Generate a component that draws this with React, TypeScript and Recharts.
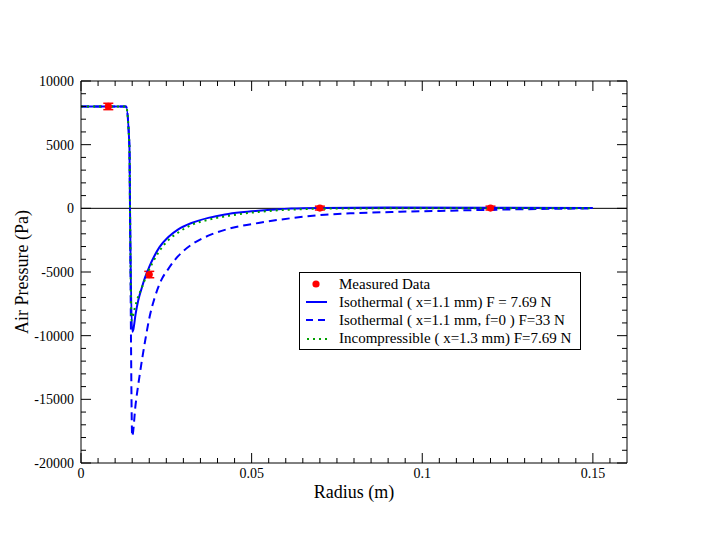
import React from 'react';
import { ComposedChart, Line, Scatter, ErrorBar, XAxis, YAxis, ReferenceLine, Legend } from 'recharts';

const FONT = '"Liberation Serif", "Times New Roman", serif';

// measured points (red dots)
const measuredRadius = [0.008, 0.02, 0.07, 0.12];
const measuredPressure = [8000, -5200, 20, 20];
const measuredError = [250, 250, 150, 150];

// isothermal, x=1.1 mm, F = 7.69 N (solid)
const isoRadius = [0, 0.0132, 0.0142, 0.01436, 0.015, 0.0153, 0.016, 0.0168, 0.0178, 0.0188, 0.02, 0.0215, 0.023, 0.0256, 0.0285, 0.0324, 0.0373, 0.0422, 0.047, 0.052, 0.057, 0.0617, 0.07, 0.09, 0.12, 0.15];
const isoPressure = [8000, 8000, 4800, 0, -9700, -9550, -8300, -7200, -6250, -5400, -4600, -3750, -3050, -2250, -1650, -1150, -750, -480, -310, -190, -90, -20, 30, 60, 50, 30];

// isothermal, x=1.1 mm, f=0, F=33 N (dashed)
const isoF0Radius = [0, 0.0132, 0.0142, 0.01436, 0.015, 0.016, 0.0173, 0.0188, 0.0202, 0.0215, 0.0236, 0.0256, 0.0275, 0.03, 0.0324, 0.0373, 0.0441, 0.052, 0.0617, 0.0715, 0.08, 0.0935, 0.105, 0.117, 0.13, 0.15];
const isoF0Pressure = [8000, 8000, 4800, 0, -17900, -15400, -12900, -10400, -8400, -7100, -5600, -4750, -4050, -3350, -2850, -2150, -1550, -1150, -770, -500, -380, -270, -200, -130, -70, 0];

// incompressible, x=1.3 mm (dotted)
const incompRadius = [0, 0.0132, 0.0142, 0.01436, 0.0148, 0.0155, 0.0163, 0.0178, 0.0193, 0.021, 0.023, 0.0256, 0.0285, 0.0324, 0.0373, 0.0441, 0.052, 0.0617, 0.07, 0.09, 0.12, 0.15];
const incompPressure = [8000, 8000, 4800, 0, -8800, -8100, -7300, -6250, -5200, -4250, -3350, -2500, -1900, -1300, -900, -550, -280, -100, -30, 0, 10, 0];

const radiusTicks = [0, 0.05, 0.1, 0.15];
const radiusMinorTicks = [
  0.005, 0.01, 0.015, 0.02, 0.025, 0.03, 0.035, 0.04, 0.045, 0.055, 0.06, 0.065, 0.07, 0.075, 0.08, 0.085,
  0.09, 0.095, 0.105, 0.11, 0.115, 0.12, 0.125, 0.13, 0.135, 0.14, 0.145, 0.155,
];
const pressureTicks = [10000, 5000, 0, -5000, -10000, -15000, -20000];
const pressureMinorTicks = [
  9000, 8000, 7000, 6000, 4000, 3000, 2000, 1000, -1000, -2000, -3000, -4000, -6000, -7000, -8000, -9000,
  -11000, -12000, -13000, -14000, -16000, -17000, -18000, -19000,
];

const legendLabels = [
  'Measured Data',
  'Isothermal ( x=1.1 mm) F = 7.69 N',
  'Isothermal ( x=1.1 mm, f=0 ) F=33 N',
  'Incompressible ( x=1.3 mm) F=7.69 N',
];

const toPoints = (rs: number[], ps: number[]) => rs.map((r, i) => ({ r, p: ps[i] }));

const measuredData = measuredRadius.map((r, i) => ({ r, p: measuredPressure[i], err: measuredError[i] }));
const isoData = toPoints(isoRadius, isoPressure);
const isoF0Data = toPoints(isoF0Radius, isoF0Pressure);
const incompData = toPoints(incompRadius, incompPressure);

const allRadiusTicks = [...radiusTicks, ...radiusMinorTicks].sort((a, b) => a - b);
const allPressureTicks = [...pressureTicks, ...pressureMinorTicks].sort((a, b) => b - a);

const X_DOMAIN: [number, number] = [0, 0.16];
const Y_DOMAIN: [number, number] = [-20000, 10000];

const WIDTH = 705;
const HEIGHT = 545;
const MARGIN = { top: 81, right: 78, bottom: 52, left: 21 };
const PLOT_TOP = MARGIN.top;
const PLOT_RIGHT = WIDTH - MARGIN.right;

const BLUE = '#0000ff';
const GREEN = '#00a000';
const RED = '#ff0000';

const DataDot = (props: any) => <circle cx={props.cx} cy={props.cy} r={3.6} fill={RED} />;

// bottom axis tick: inward tick on bottom and top edges, label for majors only
const RadiusTick = (props: any) => {
  const { x, y, payload } = props;
  const major = radiusTicks.includes(payload.value);
  const len = major ? 10 : 5;
  return (
    <g>
      <line x1={x} x2={x} y1={y} y2={y - len} stroke="#000" />
      <line x1={x} x2={x} y1={PLOT_TOP} y2={PLOT_TOP + len} stroke="#000" />
      {major && (
        <text x={x} y={y + 15} textAnchor="middle" fontSize={14} fontFamily={FONT} fill="#000">
          {String(payload.value)}
        </text>
      )}
    </g>
  );
};

// left axis tick: inward tick on left and right edges, label for majors only
const PressureTick = (props: any) => {
  const { x, y, payload } = props;
  const major = pressureTicks.includes(payload.value);
  const len = major ? 10 : 5;
  return (
    <g>
      <line x1={x} x2={x + len} y1={y} y2={y} stroke="#000" />
      <line x1={PLOT_RIGHT - len} x2={PLOT_RIGHT} y1={y} y2={y} stroke="#000" />
      {major && (
        <text x={x - 7} y={y} dy={5} textAnchor="end" fontSize={14} fontFamily={FONT} fill="#000">
          {String(payload.value)}
        </text>
      )}
    </g>
  );
};

const YTitle = (props: any) => {
  const vb = props.viewBox || { x: 21, y: 81, width: 60, height: 382 };
  const cx = vb.x + 1;
  const cy = vb.y + vb.height / 2;
  return (
    <text
      x={cx}
      y={cy}
      transform={`rotate(-90, ${cx}, ${cy})`}
      textAnchor="middle"
      dominantBaseline="central"
      fontSize={18}
      fontFamily={FONT}
      fill="#000"
    >
      Air Pressure (Pa)
    </text>
  );
};

const legendSymbol = (i: number) => {
  if (i === 0) return <circle cx={16} cy={9} r={3.6} fill={RED} />;
  if (i === 1) return <line x1={6} x2={27} y1={9} y2={9} stroke={BLUE} strokeWidth={2} />;
  if (i === 2) return <line x1={6} x2={27} y1={9} y2={9} stroke={BLUE} strokeWidth={2} strokeDasharray="7 5" />;
  return <line x1={7} x2={27} y1={9} y2={9} stroke={GREEN} strokeWidth={2} strokeDasharray="2 4" />;
};

const renderLegend = () => (
  <div
    style={{
      boxSizing: 'border-box',
      width: 282,
      height: 78,
      border: '1px solid #000',
      background: '#fff',
      paddingTop: 2,
      fontFamily: FONT,
      fontSize: 15,
      color: '#000',
    }}
  >
    {legendLabels.map((label, i) => (
      <div key={label} style={{ display: 'flex', alignItems: 'center', height: 18.2, whiteSpace: 'nowrap' }}>
        <svg width={39} height={18} style={{ flex: 'none' }}>
          {legendSymbol(i)}
        </svg>
        <span>{label}</span>
      </div>
    ))}
  </div>
);

export default function App() {
  return (
    <div style={{ position: 'absolute', left: 0, top: 0, width: WIDTH, height: HEIGHT, background: '#fff', fontFamily: FONT }}>
      <ComposedChart width={WIDTH} height={HEIGHT} margin={MARGIN}>
        <XAxis
          xAxisId="x"
          dataKey="r"
          type="number"
          domain={X_DOMAIN}
          allowDataOverflow
          ticks={allRadiusTicks}
          interval={0}
          height={30}
          tickLine={false}
          tickSize={0}
          tickMargin={0}
          axisLine={{ stroke: '#000' }}
          tick={RadiusTick}
          label={{ value: 'Radius (m)', position: 'bottom', offset: -8, fontSize: 18, fill: '#000', fontFamily: FONT }}
        />
        {/* top frame line */}
        <XAxis
          xAxisId="xTop"
          orientation="top"
          type="number"
          domain={X_DOMAIN}
          allowDataOverflow
          mirror
          height={1}
          tick={false}
          tickLine={false}
          axisLine={{ stroke: '#000' }}
        />

        <YAxis
          yAxisId="y"
          dataKey="p"
          type="number"
          domain={Y_DOMAIN}
          allowDataOverflow
          ticks={allPressureTicks}
          interval={0}
          width={60}
          tickLine={false}
          tickSize={0}
          tickMargin={0}
          axisLine={{ stroke: '#000' }}
          tick={PressureTick}
          label={{ content: YTitle }}
        />
        {/* right frame line */}
        <YAxis
          yAxisId="yRight"
          orientation="right"
          type="number"
          domain={Y_DOMAIN}
          allowDataOverflow
          mirror
          width={1}
          tick={false}
          tickLine={false}
          axisLine={{ stroke: '#000' }}
        />

        <ReferenceLine xAxisId="x" yAxisId="y" y={0} stroke="#000" strokeWidth={1} />

        <Scatter
          xAxisId="x"
          yAxisId="y"
          name="Measured Data"
          data={measuredData}
          dataKey="p"
          shape={DataDot}
          isAnimationActive={false}
        >
          <ErrorBar dataKey="err" direction="y" width={5} stroke={RED} strokeWidth={1.5} isAnimationActive={false} />
        </Scatter>
        <Line
          xAxisId="x"
          yAxisId="y"
          data={isoData}
          dataKey="p"
          type="monotone"
          stroke={BLUE}
          strokeWidth={2}
          dot={false}
          isAnimationActive={false}
        />
        <Line
          xAxisId="x"
          yAxisId="y"
          data={isoF0Data}
          dataKey="p"
          type="monotone"
          stroke={BLUE}
          strokeWidth={2}
          strokeDasharray="8 5"
          dot={false}
          isAnimationActive={false}
        />
        <Line
          xAxisId="x"
          yAxisId="y"
          data={incompData}
          dataKey="p"
          type="monotone"
          stroke={GREEN}
          strokeWidth={2}
          strokeDasharray="2 4"
          dot={false}
          isAnimationActive={false}
        />
        <Legend
          layout="vertical"
          align="center"
          verticalAlign="middle"
          content={renderLegend}
          wrapperStyle={{ left: 299, top: 272, width: 282, height: 78 }}
        />
      </ComposedChart>
    </div>
  );
}
